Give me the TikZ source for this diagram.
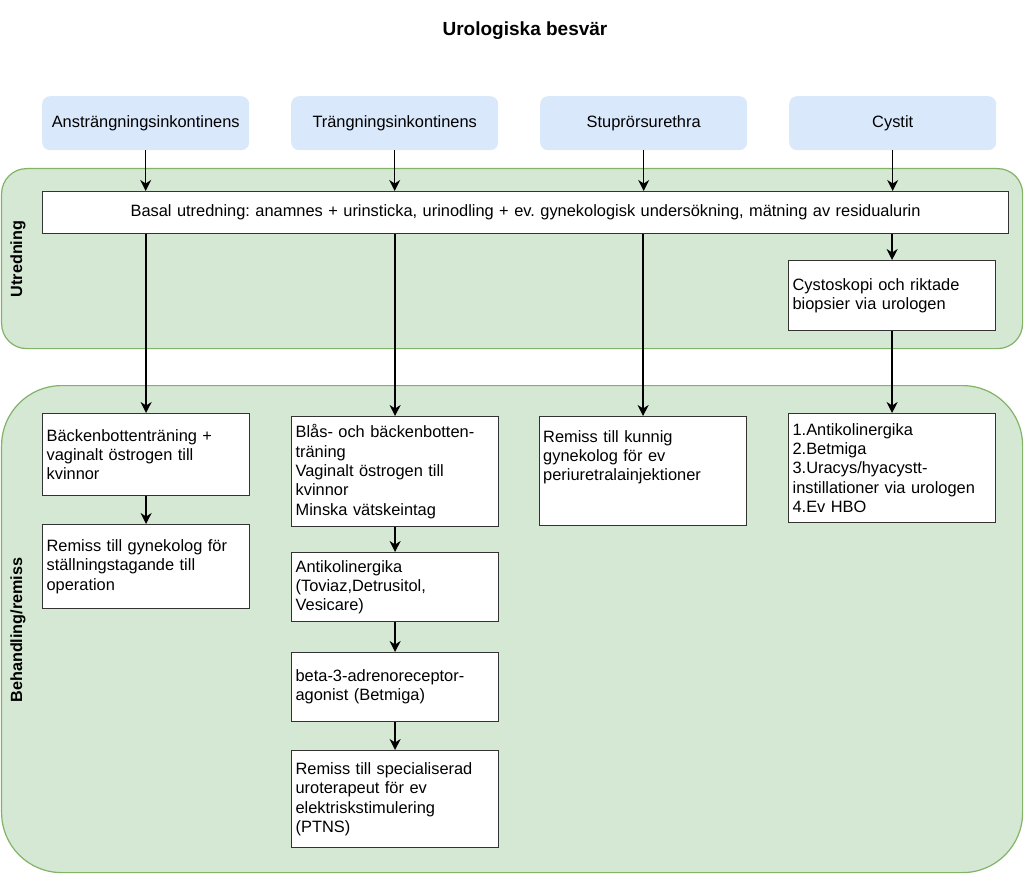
\documentclass[tikz,border=0pt]{standalone}
\usepackage{fontspec}
\setmainfont{Liberation Sans}
\usetikzlibrary{arrows.meta}
\definecolor{lanefill}{HTML}{D5E8D4}
\definecolor{lanedraw}{HTML}{82B366}
\definecolor{topfill}{HTML}{DAE8FC}
\definecolor{boxdraw}{HTML}{333333}
\frenchspacing
\begin{document}
\begin{tikzpicture}[x=1pt,y=-1pt,
  lane/.style={fill=lanefill,draw=lanedraw,line width=1.2pt,inner sep=0pt,anchor=north west},
  topbox/.style={fill=topfill,draw=none,rounded corners=8pt,minimum width=207pt,minimum height=54pt,inner sep=0pt,anchor=north west,font=\fontsize{16.4}{19.3}\selectfont},
  wbox/.style={draw=boxdraw,fill=white,line width=1.2pt,inner xsep=4pt,inner ysep=0pt,text width=199pt,align=left,anchor=north west,font=\fontsize{16.4}{19.3}\selectfont},
  txt/.style={inner sep=0pt,text width=199pt,align=left,anchor=north west,font=\fontsize{16.4}{19.3}\selectfont},
  arr/.style={draw=black,line width=1.3pt,-{Stealth[length=11pt,width=11pt,inset=3.5pt]}},
  lanelabel/.style={font=\bfseries\fontsize{16.2}{19.2}\selectfont,rotate=90}
]
\useasboundingbox (0,0) rectangle (1024,874);
\fill[white] (0,0) rectangle (1024,874);

% title
\node[font=\bfseries\fontsize{19}{23}\selectfont] (title) at (525,31) {Urologiska besvär};

% lanes
\node[lane,rounded corners=25pt,minimum width=1021pt,minimum height=180pt] (lane1) at (1,168) {};
\node[lane,rounded corners=60pt,minimum width=1021pt,minimum height=487pt] (lane2) at (1,385) {};
\node[lanelabel] (l1) at (18,259) {Utredning};
\node[lanelabel] (l2) at (18,630) {Behandling/remiss};

% top boxes
\node[topbox] (t1) at (42,96) {Ansträngningsinkontinens};
\node[topbox] (t2) at (291,96) {Trängningsinkontinens};
\node[topbox] (t3) at (540,96) {Stuprörsurethra};
\node[topbox] (t4) at (789,96) {Cystit};

% basal
\node[wbox,text width=958pt,align=center,minimum height=42pt] (basal) at (42,191)
  {Basal utredning: anamnes + urinsticka, urinodling + ev. gynekologisk undersökning, mätning av residualurin};

\node[wbox,minimum height=70pt] (cys) at (788,260) {Cystoskopi och riktade\\biopsier via urologen};

% column 1
\node[wbox,minimum height=82pt] (b1) at (42,413) {Bäckenbottenträning +\\vaginalt östrogen till\\kvinnor};
\node[wbox,minimum height=84pt] (b2) at (42,524) {Remiss till gynekolog för\\ställningstagande till\\operation};

% column 2
\node[wbox,minimum height=110pt] (c1) at (291,416) {Blås- och bäckenbotten-\\träning\\Vaginalt östrogen till\\kvinnor\\Minska vätskeintag};
\node[wbox,minimum height=69pt] (c2) at (291,552) {Antikolinergika\\(Toviaz,Detrusitol,\\Vesicare)};
\node[wbox,minimum height=69pt] (c3) at (291,652) {beta-3-adrenoreceptor-\\agonist (Betmiga)};
\node[wbox,minimum height=97pt] (c4) at (291,750) {Remiss till specialiserad\\uroterapeut för ev\\elektriskstimulering\\(PTNS)};

% column 3
\node[wbox,minimum height=109pt] (d1) at (539,416) {};
\node[txt] (d1t) at ([xshift=4pt,yshift=-14pt]d1.north west) {Remiss till kunnig\\gynekolog för ev\\periuretralainjektioner};

% column 4
\node[wbox,minimum height=109pt] (e1) at (788,413) {1.Antikolinergika\\2.Betmiga\\3.Uracys/hyacystt-\\instillationer via urologen\\4.Ev HBO};

% arrows
\draw[arr] (t1) -- (t1 |- basal.north);
\draw[arr] (t2) -- (t2 |- basal.north);
\draw[arr] (t3) -- (t3 |- basal.north);
\draw[arr] (t4) -- (t4 |- basal.north);
\draw[arr] (basal.south -| cys.north) -- (cys.north);
\draw[arr] (basal.south -| b1.north) -- (b1.north);
\draw[arr] (basal.south -| c1.north) -- (c1.north);
\draw[arr] (basal.south -| d1.north) -- (d1.north);
\draw[arr] (cys) -- (e1);
\draw[arr] (b1) -- (b2);
\draw[arr] (c1) -- (c2);
\draw[arr] (c2) -- (c3);
\draw[arr] (c3) -- (c4);
\end{tikzpicture}
\end{document}
